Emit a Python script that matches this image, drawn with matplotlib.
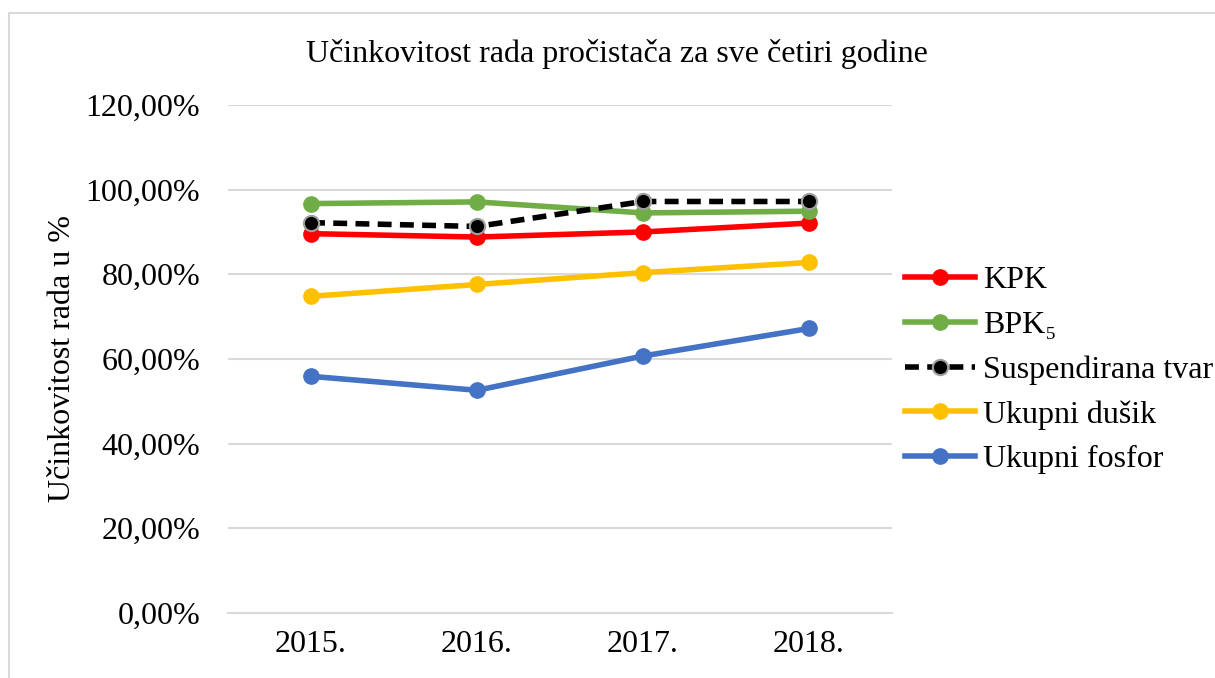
import matplotlib.pyplot as plt
from matplotlib.lines import Line2D
from matplotlib.ticker import FuncFormatter

plt.rcParams['font.family'] = ['Liberation Serif', 'DejaVu Serif']

# Data (efficiency, %)
years = ["2015.", "2016.", "2017.", "2018."]
kpk = [89.6, 88.8, 90.0, 92.1]
bpk5 = [96.7, 97.1, 94.5, 94.9]
suspendirana = [92.2, 91.3, 97.2, 97.2]
dusik = [74.8, 77.6, 80.4, 82.8]
fosfor = [55.9, 52.6, 60.7, 67.2]

fig = plt.figure(figsize=(12.15, 6.78), dpi=100)
ax = fig.add_axes([0.1877, 0.0959, 0.5465, 0.7493])

x = range(len(years))
lw = 4
ms = 11
ax.plot(x, kpk, color="#FF0000", lw=lw, marker="o", ms=ms, label="KPK")
ax.plot(x, bpk5, color="#70AD47", lw=lw, marker="o", ms=ms, label="BPK₅")
ax.plot(x, suspendirana, color="black", lw=lw, ls=(0, (2.5, 1.5)), marker="o", ms=ms,
        mfc="black", mec="#A0A0A0", mew=1.5, label="Suspendirana tvar")
ax.plot(x, dusik, color="#FFC000", lw=lw, marker="o", ms=ms, label="Ukupni dušik")
ax.plot(x, fosfor, color="#4472C4", lw=lw, marker="o", ms=ms, label="Ukupni fosfor")

ax.set_xlim(-0.5, len(years) - 0.5)
ax.set_ylim(0, 120)
ax.set_yticks(range(0, 121, 20))
ax.yaxis.set_major_formatter(FuncFormatter(lambda v, p: f"{v:.2f}%".replace(".", ",")))
ax.set_xticks(list(x))
ax.set_xticklabels(years)
ax.tick_params(axis="both", length=0, labelsize=23, colors="black")
ax.tick_params(axis="y", pad=20)
ax.tick_params(axis="x", pad=12)
ax.grid(axis="y", color="#D9D9D9", lw=1.5)
ax.set_axisbelow(True)
for s in ["top", "right", "left"]:
    ax.spines[s].set_visible(False)
ax.spines["bottom"].set_color("#D9D9D9")
ax.spines["bottom"].set_linewidth(1.5)

ax.set_ylabel("Učinkovitost rada u %", fontsize=23, labelpad=6)
fig.text(0.508, 0.92, "Učinkovitost rada pročistača za sve četiri godine",
         ha="center", va="center", fontsize=23)

ax.legend(loc="center left", bbox_to_anchor=(1.0, 0.478), frameon=False,
          fontsize=23, handlelength=2.2, handletextpad=0.25, labelspacing=0.48,
          borderpad=0, borderaxespad=0.4)

# chart frame (only left and top edges visible)
fig.add_artist(Line2D([9 / 1215, 9 / 1215], [0, 1 - 13 / 678], color="#D9D9D9", lw=1.5))
fig.add_artist(Line2D([9 / 1215, 1], [1 - 13 / 678, 1 - 13 / 678], color="#D9D9D9", lw=1.5))

fig.savefig("out.png", dpi=100)
